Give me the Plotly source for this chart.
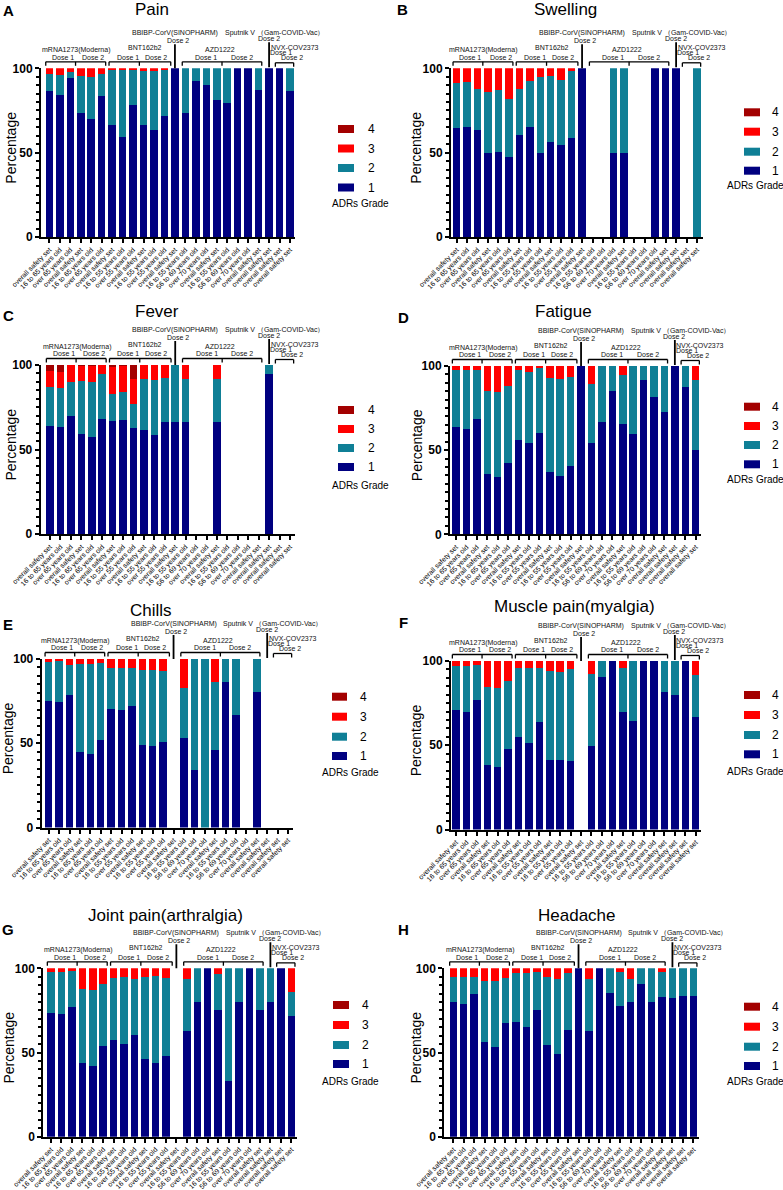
import plotly.graph_objects as go

W, H = 783, 1190
FONT = "Liberation Sans, Arial, Helvetica, sans-serif"

# ---------------- data ----------------
grades = ["1", "2", "3", "4"]
grade_colors = ["#000080", "#0F7F96", "#FF0000", "#A30000"]

x_labels = ["overall safety set", "16 to 65 years old", "over 65 years old",
            "overall safety set", "16 to 65 years old", "over 65 years old",
            "overall safety set", "16 to 55 years old", "over 55 years old",
            "overall safety set", "16 to 55 years old", "over 55 years old",
            "overall safety set", "16 to 55 years old", "56 to 69 years old",
            "over 70 years old", "overall safety set", "16 to 55 years old",
            "56 to 69 years old", "over 70 years old", "overall safety set",
            "overall safety set", "overall safety set", "overall safety set"]
bar_pos = list(range(1, 25))

pain_g1 = [86.8, 84.4, 94.5, 73.3, 70.0, 83.8, 66.6, 59.3, 78.3, 66.6, 63.4, 71.7, 100, 73.3, 92.3, 90.1, 81.2, 79.2, 100, 100, 87.2, 100, 100, 86.8]
pain_g2 = [9.8, 11.6, 3.5, 22.2, 24.7, 13.0, 32.4, 39.7, 21.1, 31.6, 34.8, 27.7, 0, 26.7, 7.7, 9.9, 18.8, 20.8, 0, 0, 12.8, 0, 0, 13.2]
pain_g3 = [3.4, 4.0, 2.0, 4.5, 5.3, 3.2, 1.0, 1.0, 0.6, 1.8, 1.8, 0.6, 0, 0, 0, 0, 0, 0, 0, 0, 0, 0, 0, 0]
pain_g4 = [0] * 24

swelling_g1 = [64.6, 65.0, 63.4, 49.6, 50.2, 47.4, 60.5, 65.2, 50.0, 56.3, 54.7, 58.7, 100, 0, 0, 50, 50, 0, 0, 100, 100, 100, 0, 0]
swelling_g2 = [26.5, 27.1, 24.3, 36.4, 36.8, 34.4, 27.0, 27.1, 44.9, 39.4, 38.4, 39.7, 0, 0, 0, 50, 50, 0, 0, 0, 0, 0, 0, 100]
swelling_g3 = [8.9, 7.9, 12.3, 14.0, 13.0, 18.2, 12.5, 7.7, 5.1, 4.3, 6.9, 1.6, 0, 0, 0, 0, 0, 0, 0, 0, 0, 0, 0, 0]
swelling_g4 = [0] * 24

fever_g1 = [63.9, 63.3, 69.8, 59.4, 57.6, 68.2, 66.9, 67.5, 62.5, 61.3, 58.6, 66.5, 66.3, 66.3, 0, 0, 66.3, 0, 0, 0, 0, 94.9, 0, 0]
fever_g2 = [23.1, 23.3, 20.3, 31.1, 32.4, 26.7, 15.7, 16.7, 14.2, 30.2, 32.5, 25.6, 33.7, 25.2, 0, 0, 25.2, 0, 0, 0, 0, 5.1, 0, 0]
fever_g3 = [9.4, 9.4, 9.9, 9.1, 9.6, 5.1, 16.2, 15.5, 14.8, 8.5, 8.9, 7.9, 0, 8.5, 0, 0, 8.5, 0, 0, 0, 0, 0, 0, 0]
fever_g4 = [3.6, 4.0, 0, 0.4, 0.4, 0, 1.2, 0.3, 8.5, 0, 0, 0, 0, 0, 0, 0, 0, 0, 0, 0, 0, 0, 0, 0]

fatigue_g1 = [64.0, 62.6, 68.4, 35.8, 33.8, 42.1, 56.0, 54.2, 60.0, 37.2, 34.8, 40.7, 100, 54.1, 66.9, 85.2, 65.5, 59.4, 91.7, 81.5, 72.8, 100, 87.6, 50.0]
fatigue_g2 = [33.4, 34.8, 29.2, 49.4, 50.6, 46.3, 41.6, 42.4, 39.2, 55.9, 57.5, 53.0, 0, 35.1, 33.1, 14.8, 29.2, 40.6, 8.3, 18.5, 27.2, 0, 12.4, 41.7]
fatigue_g3 = [2.6, 2.6, 2.4, 14.8, 15.6, 11.6, 2.4, 3.4, 0.8, 6.9, 7.7, 6.3, 0, 10.8, 0, 0, 5.3, 0, 0, 0, 0, 0, 0, 8.3]
fatigue_g4 = [0] * 24

chills_g1 = [75.2, 74.6, 78.9, 45.1, 43.5, 52.2, 70.5, 69.9, 72.3, 49.2, 48.6, 50.6, 0, 53.1, 34.0, 0, 45.9, 86.2, 66.9, 0, 80.3, 0, 0, 0]
chills_g2 = [22.8, 24.0, 17.8, 51.9, 53.5, 45.6, 24.2, 25.0, 22.4, 44.1, 44.7, 42.3, 0, 29.6, 66.0, 100, 40.7, 13.8, 33.1, 0, 19.7, 0, 0, 0]
chills_g3 = [2.0, 1.4, 3.3, 3.0, 3.0, 2.2, 5.3, 5.1, 5.3, 6.7, 6.7, 7.1, 0, 17.3, 0, 0, 13.4, 0, 0, 0, 0, 0, 0, 0]
chills_g4 = [0] * 24

myalgia_g1 = [71.1, 69.5, 76.6, 38.0, 37.0, 47.6, 55.1, 51.2, 63.6, 41.1, 41.5, 40.6, 0, 49.8, 90.7, 100, 69.5, 64.6, 100, 100, 81.9, 79.9, 100, 66.5]
myalgia_g2 = [26.1, 27.7, 21.0, 46.4, 46.7, 40.4, 40.6, 44.5, 32.5, 53.0, 51.8, 54.5, 0, 42.3, 9.3, 0, 26.2, 35.4, 0, 0, 18.1, 20.1, 0, 25.2]
myalgia_g3 = [2.8, 2.8, 2.4, 15.6, 16.3, 12.0, 4.3, 4.3, 3.9, 5.9, 6.7, 4.9, 0, 7.9, 0, 0, 4.3, 0, 0, 0, 0, 0, 0, 8.3]
myalgia_g4 = [0] * 24

arthralgia_g1 = [73.7, 72.7, 77.1, 44.0, 42.0, 54.0, 57.3, 55.1, 60.5, 46.0, 44.0, 48.0, 0, 62.8, 80.2, 100, 75.3, 33.0, 80.2, 100, 75.3, 80.2, 100, 71.7]
arthralgia_g2 = [23.9, 24.9, 21.1, 43.9, 45.2, 36.7, 37.2, 40.0, 33.4, 48.7, 51.5, 46.1, 0, 31.1, 19.8, 0, 21.1, 67.0, 19.8, 0, 24.7, 19.8, 0, 14.1]
arthralgia_g3 = [2.4, 2.4, 1.8, 12.1, 12.8, 9.3, 5.5, 4.9, 6.1, 5.3, 4.5, 5.9, 0, 6.1, 0, 0, 3.6, 0, 0, 0, 0, 0, 0, 14.2]
arthralgia_g4 = [0] * 24

headache_g1 = [80.0, 78.9, 84.8, 56.1, 53.2, 67.4, 68.2, 65.0, 75.3, 54.3, 49.2, 63.4, 100, 62.8, 100, 85.4, 77.9, 80.2, 90.5, 80.2, 83.2, 82.4, 83.6, 83.6]
headache_g2 = [14.9, 16.0, 10.1, 36.6, 39.1, 26.7, 29.0, 32.0, 22.3, 40.6, 44.3, 33.8, 0, 31.1, 0, 14.6, 19.7, 13.5, 9.5, 19.8, 14.4, 17.6, 16.4, 16.4]
headache_g3 = [5.1, 5.1, 5.1, 7.3, 7.7, 5.9, 2.8, 3.0, 2.4, 5.1, 6.5, 2.8, 0, 6.1, 0, 0, 2.4, 6.3, 0, 0, 2.4, 0, 0, 0]
headache_g4 = [0] * 24

# group labels above bars: (text, x in bar units, px above plot top)
group_texts = [
    ("mRNA1273(Moderna)", 3.55, 18.5),
    ("Dose 1", 2.3, 11.3), ("Dose 2", 5.2, 11.3),
    ("BNT162b2", 10.1, 20.3),
    ("Dose 1", 8.5, 11.3), ("Dose 2", 11.2, 11.3),
    ("BBIBP-CorV(SINOPHARM)", 13.0, 35.0), ("Dose 2", 13.25, 27.6),
    ("AZD1222", 17.3, 18.5),
    ("Dose 1", 16.0, 11.3), ("Dose 2", 19.4, 11.3),
    ("Sputnik V （Gam-COVID-Vac）", 22.5, 35.0), ("Dose 2", 21.95, 29.5),
    ("NVX-COV2373", 24.45, 21.0), ("Dose 1", 23.15, 15.5), ("Dose 2", 24.2, 10.5),
]
# brackets: (x0, x1, middle tick or None, line offset px, tick end offset px)
brackets = [(0.65, 6.38, 3.5, 6.5, 2.5), (6.7, 12.6, 9.6, 6.5, 2.5),
            (13.7, 21.3, 17.5, 6.5, 2.5), (22.6, 24.35, None, 5.5, 1.5)]
vlines = [(13.0, 24.0, 0.0), (22.0, 26.0, 1.0)]

panels = [
    dict(title="Pain", letter="A", data=(pain_g1, pain_g2, pain_g3, pain_g4),
         axL=41, b1=49.4, b24=290, axR=295, top=68.3, bot=237, tx=152, ty=10, lx=8, ly=10.5, ytx=11,
         sw=(338, 354), lab=366, ys=(129, 148.5, 168, 187.5), lt=(360, 203)),
    dict(title="Swelling", letter="B", data=(swelling_g1, swelling_g2, swelling_g3, swelling_g4),
         axL=451, b1=456.7, b24=697, axR=703, top=68.3, bot=237, tx=565, ty=10, lx=402.5, ly=9.5, ytx=416,
         sw=(744, 760), lab=770, ys=(112.3, 131.7, 151.7, 170.7), lt=(755, 185)),
    dict(title="Fever", letter="C", data=(fever_g1, fever_g2, fever_g3, fever_g4),
         axL=40.7, b1=50, b24=290, axR=295, top=365, bot=534, tx=157, ty=312, lx=8, ly=316, ytx=10,
         sw=(338, 354), lab=366, ys=(410, 429, 448, 467), lt=(360, 485)),
    dict(title="Fatigue", letter="D", data=(fatigue_g1, fatigue_g2, fatigue_g3, fatigue_g4),
         axL=450, b1=456, b24=695.7, axR=701, top=366, bot=534.3, tx=563, ty=312, lx=403.5, ly=317.5, ytx=417,
         sw=(744, 760), lab=770, ys=(406.7, 426, 445, 464.3), lt=(755, 479.3)),
    dict(title="Chills", letter="E", data=(chills_g1, chills_g2, chills_g3, chills_g4),
         axL=41.7, b1=48.7, b24=288, axR=293, top=659, bot=827.5, tx=151, ty=610, lx=8, ly=624, ytx=8,
         sw=(332, 347), lab=358, ys=(696.7, 716.7, 736.7, 756), lt=(350, 772)),
    dict(title="Muscle pain(myalgia)", letter="F", data=(myalgia_g1, myalgia_g2, myalgia_g3, myalgia_g4),
         axL=451, b1=456, b24=695.7, axR=701, top=661, bot=829.5, tx=574, ty=606, lx=403, ly=622.5, ytx=416,
         sw=(744, 760), lab=770, ys=(695, 715, 735, 754.3), lt=(755, 771)),
    dict(title="Joint pain(arthralgia)", letter="G", data=(arthralgia_g1, arthralgia_g2, arthralgia_g3, arthralgia_g4),
         axL=43.3, b1=51, b24=291.3, axR=296.5, top=968.3, bot=1136.7, tx=165, ty=915, lx=8, ly=929, ytx=8,
         sw=(333, 349), lab=360, ys=(1005, 1025, 1045, 1064), lt=(350, 1081)),
    dict(title="Headache", letter="H", data=(headache_g1, headache_g2, headache_g3, headache_g4),
         axL=444.3, b1=453.3, b24=693.3, axR=698.5, top=968.3, bot=1136.7, tx=577, ty=915, lx=403, ly=929, ytx=415,
         sw=(744, 760), lab=770, ys=(1006.7, 1026.7, 1046.7, 1066), lt=(755, 1081)),
]


def yp(py):
    return 1 - py / H


def xp(px):
    return px / W


fig = go.Figure()
layout = dict(template="none", width=W, height=H, autosize=False, margin=dict(l=0, r=0, t=0, b=0, pad=0),
              barmode="stack", bargap=0.28, showlegend=False,
              paper_bgcolor="white", plot_bgcolor="white",
              font=dict(family=FONT, color="black"))
shapes = []
annotations = []

for i, p in enumerate(panels):
    n = i + 1
    xa = "x" if n == 1 else f"x{n}"
    ya = "y" if n == 1 else f"y{n}"
    s = (p["b24"] - p["b1"]) / 23.0
    r0 = 1 - (p["b1"] - p["axL"]) / s
    r1 = 24 + (p["axR"] - p["b24"]) / s
    for g in range(4):
        fig.add_trace(go.Bar(x=bar_pos, y=p["data"][g], name=grades[g], xaxis=xa, yaxis=ya,
                             width=0.72, marker=dict(color=grade_colors[g], line=dict(width=0)),
                             showlegend=False))
    layout["xaxis" if n == 1 else f"xaxis{n}"] = dict(
        domain=[xp(p["axL"]), xp(p["axR"])], range=[r0, r1], anchor=ya, automargin=False,
        tickmode="array", tickvals=bar_pos, ticktext=x_labels, tickangle=-45,
        tickfont=dict(size=7, family=FONT, color="black"),
        ticks="outside", ticklen=4, tickwidth=1.5, tickcolor="black",
        showline=True, linewidth=2, linecolor="black", showgrid=False, zeroline=False, fixedrange=True)
    layout["yaxis" if n == 1 else f"yaxis{n}"] = dict(
        domain=[yp(p["bot"]), yp(p["top"])], range=[0, 100], anchor=xa, automargin=False,
        tickmode="array", tickvals=[0, 50, 100],
        tickfont=dict(size=12, family=FONT, color="black", weight="bold"),
        ticks="outside", ticklen=4, tickwidth=2, tickcolor="black",
        minor=dict(dtick=5, ticks="outside", ticklen=3, tickwidth=1.5, tickcolor="black", showgrid=False),
        showline=True, linewidth=2, linecolor="black", showgrid=False, zeroline=False, fixedrange=True)

    top = p["top"]
    # group labels
    for text, xu, off in group_texts:
        annotations.append(dict(x=xu, y=yp(top - off), xref=xa, yref="paper", text=text,
                                showarrow=False, xanchor="center", yanchor="middle",
                                font=dict(size=7, family=FONT, color="#111")))
    for x0, x1, mid, off, tick in brackets:
        shapes.append(dict(type="line", xref=xa, yref="paper", x0=x0, x1=x1,
                           y0=yp(top - off), y1=yp(top - off), line=dict(color="black", width=1.3)))
        ticks_x = [x0, x1] + ([mid] if mid is not None else [])
        for tx in ticks_x:
            shapes.append(dict(type="line", xref=xa, yref="paper", x0=tx, x1=tx,
                               y0=yp(top - off), y1=yp(top - tick), line=dict(color="black", width=1.3)))
    for vx, o0, o1 in vlines:
        shapes.append(dict(type="line", xref=xa, yref="paper", x0=vx, x1=vx,
                           y0=yp(top - o0), y1=yp(top - o1), line=dict(color="black", width=1.8)))

    # title, panel letter, y title
    annotations.append(dict(x=xp(p["tx"]), y=yp(p["ty"]), xref="paper", yref="paper", text=p["title"],
                            showarrow=False, xanchor="center", yanchor="middle",
                            font=dict(size=17, family=FONT, color="black")))
    annotations.append(dict(x=xp(p["lx"]), y=yp(p["ly"]), xref="paper", yref="paper", text=p["letter"],
                            showarrow=False, xanchor="center", yanchor="middle",
                            font=dict(size=15, family=FONT, color="black", weight="bold")))
    annotations.append(dict(x=xp(p["ytx"]), y=yp((p["top"] + p["bot"]) / 2 - 5), xref="paper", yref="paper",
                            text="Percentage", textangle=-90, showarrow=False,
                            xanchor="center", yanchor="middle",
                            font=dict(size=14, family=FONT, color="black")))

    # legend (grade 4 at top)
    for k, yc in zip([3, 2, 1, 0], p["ys"]):
        shapes.append(dict(type="rect", xref="paper", yref="paper",
                           x0=xp(p["sw"][0]), x1=xp(p["sw"][1]), y0=yp(yc + 4), y1=yp(yc - 4),
                           fillcolor=grade_colors[k], line=dict(width=0)))
        annotations.append(dict(x=xp(p["lab"]), y=yp(yc), xref="paper", yref="paper", text=grades[k],
                                showarrow=False, xanchor="left", yanchor="middle",
                                font=dict(size=12, family=FONT, color="black")))
    annotations.append(dict(x=xp(p["lt"][0]), y=yp(p["lt"][1]), xref="paper", yref="paper",
                            text="ADRs Grade", showarrow=False, xanchor="center", yanchor="middle",
                            font=dict(size=10, family=FONT, color="black")))

layout["shapes"] = shapes
layout["annotations"] = annotations
fig.update_layout(**layout)
fig.write_html("out.html", config={"displayModeBar": False},
               post_script="document.body.style.margin='0';document.body.style.padding='0';"
                           "document.documentElement.style.overflow='hidden';")
